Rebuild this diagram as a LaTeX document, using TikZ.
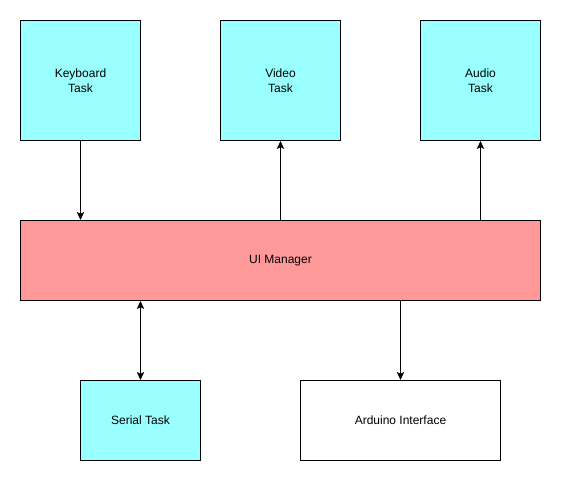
\documentclass[tikz,border=0pt]{standalone}
\usepackage{fontspec}
\setmainfont{Liberation Sans}
\usetikzlibrary{arrows.meta,positioning}
\definecolor{taskFill}{HTML}{99FFFF}
\definecolor{mgrFill}{HTML}{FF9999}
\tikzset{
  ui diagram/.style={x=0.75pt, y=-0.75pt, font=\fontsize{9}{11}\selectfont,
    line width=0.75pt, line join=miter},
  task box/.style={draw=black, fill=taskFill, line width=0.75pt, align=center,
    minimum width=90pt, minimum height=90pt, inner sep=0pt, anchor=north west},
  mgr box/.style={task box, fill=mgrFill, minimum width=390pt, minimum height=60pt},
  io box/.style={task box, fill=white, minimum width=150pt, minimum height=60pt},
  ui tip/.style={Stealth[length=6pt, width=5.5pt, inset=1.4pt]},
  ui arrow/.style={-{Stealth[length=6pt, width=5.5pt, inset=1.4pt]}, draw=black, line width=0.75pt},
  ui both/.style={ui arrow, {Stealth[length=6pt, width=5.5pt, inset=1.4pt]}-{Stealth[length=6pt, width=5.5pt, inset=1.4pt]}}
}
\begin{document}
\begin{tikzpicture}[ui diagram]
\useasboundingbox (0,0) rectangle (561,481);
% tasks on top
\node[task box] (kbd) at (20,20) {Keyboard\\Task};
\node[task box] (video) at (220,20) {Video\\Task};
\node[task box] (audio) at (420,20) {Audio\\Task};
% manager
\node[mgr box] (ui) at (20,220) {UI Manager};
% bottom row
\node[task box, minimum height=60pt] (serial) at (80,380) {Serial Task};
\node[io box] (arduino) at (300,380) {Arduino Interface};
% links
\draw[ui arrow] (kbd.south) -- (kbd.south |- ui.north);
\draw[ui arrow] (video.south |- ui.north) -- (video.south);
\draw[ui arrow] (audio.south |- ui.north) -- (audio.south);
\draw[ui both] (serial.north |- ui.south) -- (serial.north);
\draw[ui arrow] (arduino.north |- ui.south) -- (arduino.north);
\end{tikzpicture}
\end{document}
